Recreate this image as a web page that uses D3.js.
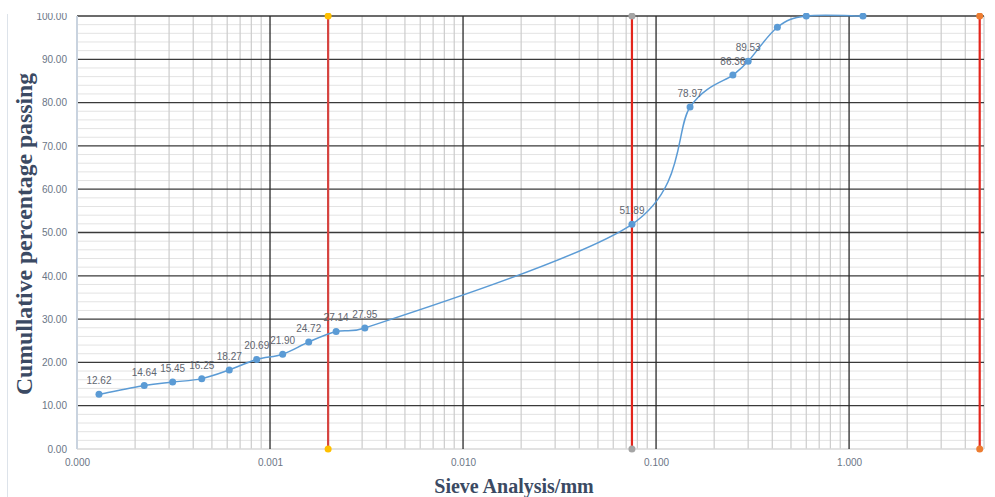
<!DOCTYPE html>
<html>
<head>
<meta charset="utf-8">
<script src="https://cdn.jsdelivr.net/npm/d3@7"></script>
<style>
  html, body { margin: 0; padding: 0; background: #fff; }
  svg { display: block; }
</style>
</head>
<body>
<svg id="chart" width="995" height="497"></svg>
<script>
// ---- data ----
const sizes = [0.000130, 0.000223, 0.000313, 0.000443, 0.000615, 0.000853, 0.001163, 0.001587, 0.0022, 0.0031, 0.075, 0.15, 0.25, 0.30, 0.425, 0.60, 1.18];
const passing = [12.62, 14.64, 15.45, 16.25, 18.27, 20.69, 21.90, 24.72, 27.14, 27.95, 51.89, 78.97, 86.36, 89.53, 97.4, 100, 100];
const showLabel = [true, true, true, true, true, true, true, true, true, true, true, true, true, true, false, false, false];
const refLines = [0.002, 0.075, 4.75];
const refDotColors = ["#ffc000", "#a5a5a5", "#ed7d31"];
const xTickValues = [0.0001, 0.001, 0.01, 0.1, 1];
const xTickLabels = ["0.000", "0.001", "0.010", "0.100", "1.000"];
const yTickValues = [0, 10, 20, 30, 40, 50, 60, 70, 80, 90, 100];
const xTitle = "Sieve Analysis/mm";
const yTitle = "Cumullative percentage passing";

// ---- layout ----
const svg = d3.select("#chart");
const pLeft = 77, pRight = 984, pTop = 16, pBottom = 449;
const x = d3.scaleLog().domain([0.0001, 5]).range([pLeft, pRight]);
const y = d3.scaleLinear().domain([0, 100]).range([pBottom, pTop]);

// faint outer border line at left
svg.append("line").attr("x1", 7.5).attr("x2", 7.5).attr("y1", 14).attr("y2", 497)
  .attr("stroke", "#dde3ea").attr("stroke-width", 1);

const grid = svg.append("g");

// minor horizontal gridlines every 2
d3.range(0, 101, 2).filter(v => v % 10 !== 0).forEach(v => {
  grid.append("line").attr("x1", pLeft).attr("x2", pRight)
    .attr("y1", y(v)).attr("y2", y(v))
    .attr("stroke", "#e3e3e3").attr("stroke-width", 1);
});

// minor vertical gridlines
const minorX = [];
[0.0001, 0.001, 0.01, 0.1, 1].forEach(dec => {
  for (let m = 2; m <= 9; m++) {
    const v = dec * m;
    if (v <= 5.0001) minorX.push(v);
  }
});
minorX.forEach(v => {
  grid.append("line").attr("x1", x(v)).attr("x2", x(v))
    .attr("y1", pTop).attr("y2", pBottom)
    .attr("stroke", "#cccccc").attr("stroke-width", 1.2);
});

// major horizontal gridlines
yTickValues.filter(v => v > 0).forEach(v => {
  grid.append("line").attr("x1", pLeft).attr("x2", pRight)
    .attr("y1", y(v)).attr("y2", y(v))
    .attr("stroke", "#3a3a3a").attr("stroke-width", 1.3);
});
// x axis baseline (light)
grid.append("line").attr("x1", pLeft).attr("x2", pRight)
  .attr("y1", pBottom).attr("y2", pBottom)
  .attr("stroke", "#d9d9d9").attr("stroke-width", 1.3);

// major vertical gridlines
xTickValues.filter(v => v > 0.0001).forEach(v => {
  grid.append("line").attr("x1", x(v)).attr("x2", x(v))
    .attr("y1", pTop).attr("y2", pBottom)
    .attr("stroke", "#2a2a2a").attr("stroke-width", 1.3);
});

// y axis line
grid.append("line").attr("x1", pLeft).attr("x2", pLeft)
  .attr("y1", pTop).attr("y2", pBottom)
  .attr("stroke", "#c9d3df").attr("stroke-width", 2);

// ---- axes labels ----
const yAxis = d3.axisLeft(y).tickValues(yTickValues).tickFormat(d3.format(".2f")).tickSize(0).tickPadding(10);
const ya = svg.append("g").attr("transform", `translate(${pLeft},0)`).call(yAxis);
ya.select(".domain").remove();
ya.selectAll("text").attr("font-family", "Liberation Sans, Arial, sans-serif")
  .attr("font-size", 10).attr("fill", "#6b7686");

const xAxis = d3.axisBottom(x).tickValues(xTickValues)
  .tickFormat((d, i) => xTickLabels[i]).tickSize(0).tickPadding(10);
const xa = svg.append("g").attr("transform", `translate(0,${pBottom})`).call(xAxis);
xa.select(".domain").remove();
xa.selectAll("text").attr("font-family", "Liberation Sans, Arial, sans-serif")
  .attr("font-size", 10).attr("fill", "#6b7686");

// ---- reference red lines ----
refLines.forEach((v, i) => {
  svg.append("line").attr("x1", x(v)).attr("x2", x(v))
    .attr("y1", pTop).attr("y2", pBottom)
    .attr("stroke", i === 0 ? "#d6433f" : "#e3251c").attr("stroke-width", 2.2);
  [pTop, pBottom].forEach(yy => {
    svg.append("circle").attr("cx", x(v)).attr("cy", yy).attr("r", 3.5)
      .attr("fill", refDotColors[i]);
  });
});

// ---- data series ----
const pts = sizes.map((s, i) => ({ s, p: passing[i], lab: showLabel[i] }));

// Excel-style smoothed line: Bezier segments with tangent P(i+1)-P(i-1),
// scaled by 1/6 but limited so that control points never overshoot short segments.
function smoothPath(P) {
  const dist = (a, b) => Math.hypot(a[0] - b[0], a[1] - b[1]);
  const ctrl = P.map((p, i) => {
    const prev = P[i - 1] || p, next = P[i + 1] || p;
    const tx = next[0] - prev[0], ty = next[1] - prev[1];
    let f = 1 / 6;
    if (i > 0 && i < P.length - 1) {
      const d01 = dist(prev, p), d12 = dist(p, next), d02 = dist(prev, next);
      if (!(d02 / 6 < d12 / 2 && d02 / 6 < d01 / 2)) {
        f = Math.min(d01, d12) / (2 * d02);
      }
    }
    return { before: [p[0] - f * tx, p[1] - f * ty], after: [p[0] + f * tx, p[1] + f * ty] };
  });
  const path = d3.path();
  path.moveTo(P[0][0], P[0][1]);
  for (let i = 0; i < P.length - 1; i++) {
    const c1 = ctrl[i].after, c2 = ctrl[i + 1].before;
    path.bezierCurveTo(c1[0], c1[1], c2[0], c2[1], P[i + 1][0], P[i + 1][1]);
  }
  return path.toString();
}
const screenPts = pts.map(d => [x(d.s), y(d.p)]);
svg.append("path").attr("d", smoothPath(screenPts))
  .attr("fill", "none").attr("stroke", "#5b9bd5").attr("stroke-width", 1.5);
svg.selectAll("circle.pt").data(pts).enter().append("circle").attr("class", "pt")
  .attr("cx", d => x(d.s)).attr("cy", d => y(d.p)).attr("r", 3.5)
  .attr("fill", "#5b9bd5");
svg.selectAll("text.lab").data(pts.filter(d => d.lab)).enter().append("text").attr("class", "lab")
  .attr("x", d => x(d.s)).attr("y", d => y(d.p) - 10)
  .attr("text-anchor", "middle")
  .attr("font-family", "Liberation Sans, Arial, sans-serif")
  .attr("font-size", 10).attr("fill", "#5f6670")
  .text(d => d.p.toFixed(2));

// ---- axis titles ----
svg.append("text").attr("x", 514).attr("y", 493).attr("text-anchor", "middle")
  .attr("font-family", "Liberation Serif, Times New Roman, serif")
  .attr("font-weight", "bold").attr("font-size", 20).attr("fill", "#3b4a63")
  .text(xTitle);
svg.append("text").attr("transform", "translate(32,234) rotate(-90)")
  .attr("text-anchor", "middle")
  .attr("font-family", "Liberation Serif, Times New Roman, serif")
  .attr("font-weight", "bold").attr("font-size", 23).attr("fill", "#3b4a63")
  .attr("textLength", 322).attr("lengthAdjust", "spacingAndGlyphs")
  .text(yTitle);

// cropped top edge as in the reference
svg.append("rect").attr("x", 0).attr("y", 0).attr("width", 995).attr("height", 13).attr("fill", "#fff");
</script>
</body>
</html>
